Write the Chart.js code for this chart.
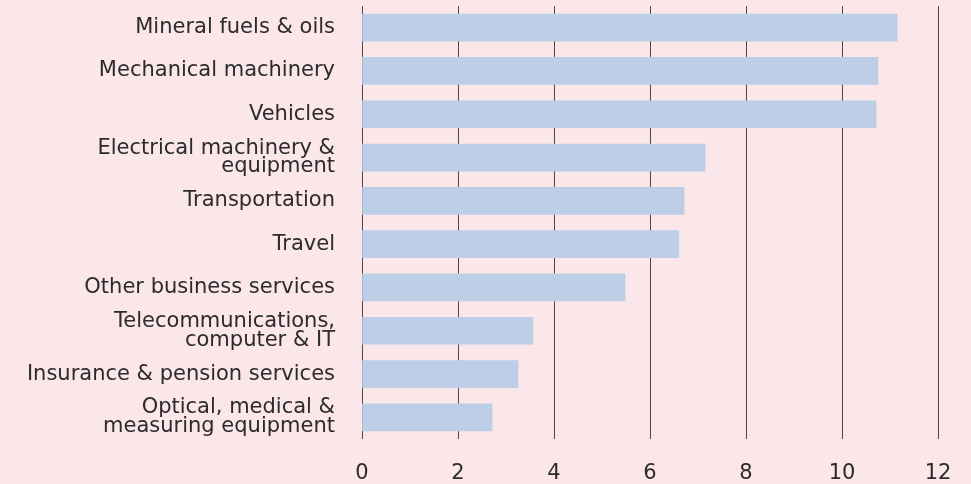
<!DOCTYPE html>
<html>
<head>
<meta charset="utf-8">
<script src="https://cdn.jsdelivr.net/npm/chart.js@4"></script>
<style>
  html, body { margin: 0; padding: 0; background: #fbe6e9; }
  #wrap { width: 971px; height: 484px; position: relative; }
</style>
</head>
<body>
<div id="wrap"><canvas id="barChart"></canvas></div>
<script>
var categories = [
    "Mineral fuels & oils",
    "Mechanical machinery",
    "Vehicles",
    ["Electrical machinery &", "equipment"],
    "Transportation",
    "Travel",
    "Other business services",
    ["Telecommunications,", "computer & IT"],
    "Insurance & pension services",
    ["Optical, medical &", "measuring equipment"]
];
var values = [11.15, 10.75, 10.71, 7.15, 6.71, 6.6, 5.48, 3.56, 3.25, 2.71];
var xTicks = [0, 2, 4, 6, 8, 10, 12];

var fontFamily = "'DejaVu Sans', 'Open Sans', sans-serif";

var ctx = document.getElementById("barChart");
var myChart = new Chart(ctx, {
    type: 'bar',
    data: {
        labels: categories,
        datasets: [
            {
                data: values,
                backgroundColor: "#bccfe7",
                borderWidth: 0,
                barThickness: 27
            }
        ]
    },
    options: {
        indexAxis: 'y',
        responsive: true,
        maintainAspectRatio: false,
        animation: false,
        layout: {
            padding: { top: 6, right: 33, left: 0, bottom: 0 }
        },
        plugins: {
            legend: { display: false },
            tooltip: { enabled: false }
        },
        scales: {
            x: {
                min: 0,
                max: 12,
                z: 1,
                afterBuildTicks: function (scale) {
                    scale.ticks = xTicks.map(function (v) { return { value: v }; });
                },
                afterFit: function (scale) {
                    scale.height = 45;
                    scale.paddingLeft = 0;
                    scale.paddingRight = 0;
                },
                grid: {
                    color: "rgba(45, 45, 45, 0.85)",
                    lineWidth: 1,
                    drawTicks: false,
                    tickLength: 0
                },
                border: { display: false },
                ticks: {
                    padding: 22,
                    color: "#2b2b2b",
                    font: { family: fontFamily, size: 21 }
                }
            },
            y: {
                afterFit: function (scale) {
                    scale.width = 362;
                    scale.paddingTop = 0;
                    scale.paddingBottom = 0;
                },
                grid: { display: false, drawTicks: false },
                border: { display: false },
                ticks: {
                    autoSkip: false,
                    padding: 27,
                    color: "#2b2b2b",
                    font: { family: fontFamily, size: 21, lineHeight: 0.9 }
                }
            }
        }
    }
});
</script>
</body>
</html>
